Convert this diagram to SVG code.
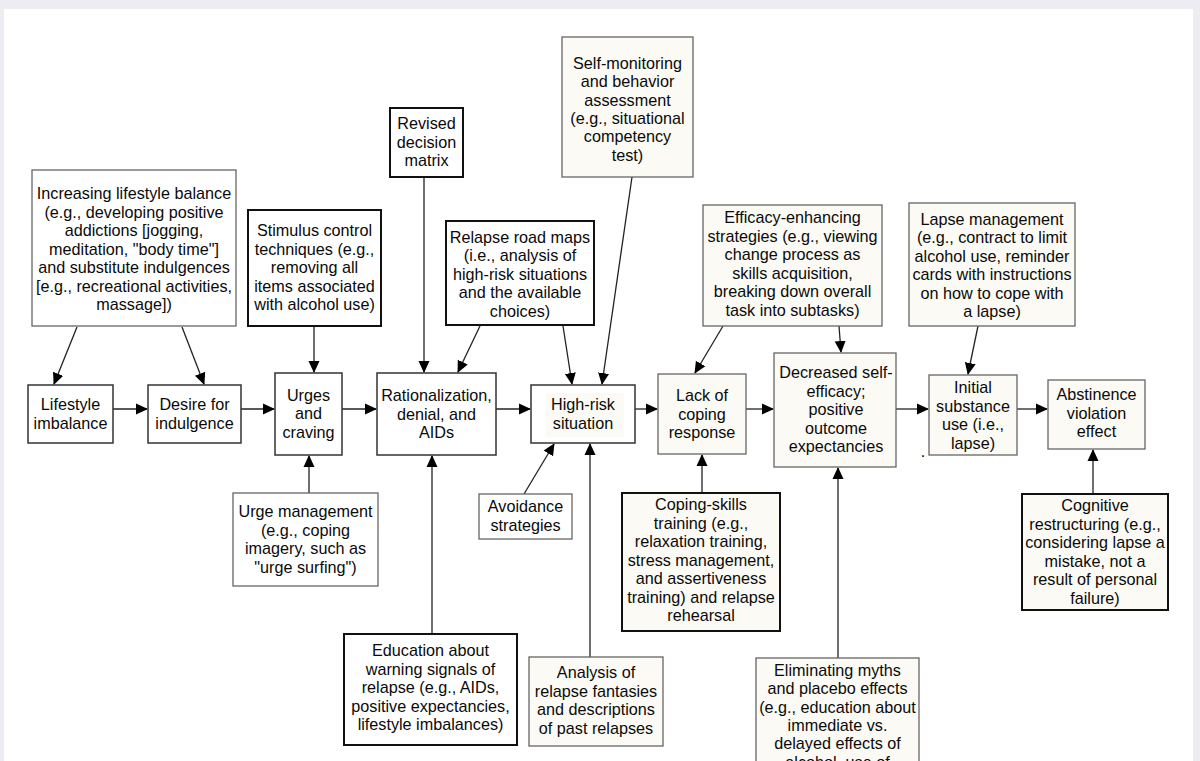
<svg xmlns="http://www.w3.org/2000/svg" width="1200" height="761" viewBox="0 0 1200 761">
<defs>
<marker id="ah" markerWidth="12" markerHeight="12" refX="11" refY="6" orient="auto" markerUnits="userSpaceOnUse">
<path d="M0,0.5 L12,6 L0,11.5 Z" fill="#000"/>
</marker>
<style>
text{font-family:"Liberation Sans",Arial,sans-serif;font-size:16.2px;fill:#0a0a0a;text-anchor:middle}
.w{fill:#fff;stroke:#333;stroke-width:1.5}
.g{fill:#fff;stroke:#666;stroke-width:1.3}
.c{fill:#fbfaf4;stroke:#666;stroke-width:1.3}
.b{fill:#fff;stroke:#111;stroke-width:2}
.cb{fill:#fbfaf4;stroke:#111;stroke-width:2}
.e line{stroke:#222;stroke-width:1.3;marker-end:url(#ah)}
</style>
</defs>
<rect x="0" y="0" width="1200" height="761" fill="#ececf2"/>
<rect x="4" y="9" width="1189" height="752" fill="#fff"/>

<g class="e" id="connectors">
<line x1="77" y1="327" x2="54" y2="384"/>
<line x1="182" y1="327" x2="204" y2="384"/>
<line x1="314" y1="326" x2="314" y2="372"/>
<line x1="113" y1="409" x2="147" y2="409"/>
<line x1="241" y1="409" x2="274" y2="409"/>
<line x1="342" y1="409" x2="376" y2="409"/>
<line x1="496" y1="409" x2="530" y2="409"/>
<line x1="635" y1="409" x2="657" y2="409"/>
<line x1="746" y1="409" x2="773" y2="409"/>
<line x1="896" y1="409" x2="928" y2="409"/>
<line x1="1017" y1="409" x2="1047" y2="409"/>
<line x1="424" y1="177" x2="424" y2="372"/>
<line x1="480" y1="326" x2="458" y2="372"/>
<line x1="563" y1="326" x2="572" y2="384"/>
<line x1="632" y1="177" x2="602" y2="384"/>
<line x1="723" y1="326" x2="695" y2="373"/>
<line x1="839" y1="326" x2="841" y2="352"/>
<line x1="978" y1="326" x2="968" y2="374"/>
<line x1="309" y1="493" x2="309" y2="456"/>
<line x1="524" y1="494" x2="554" y2="444"/>
<line x1="432" y1="634" x2="432" y2="456"/>
<line x1="590" y1="657" x2="590" y2="444"/>
<line x1="702" y1="493" x2="702" y2="455"/>
<line x1="838" y1="658" x2="838" y2="468"/>
<line x1="1093" y1="494" x2="1093" y2="450"/>
</g>

<g id="increasing-balance">
<rect class="g" x="32" y="170" width="204" height="156"/>
<text x="134" y="199"><tspan x="134">Increasing lifestyle balance</tspan><tspan x="134" dy="18.5">(e.g., developing positive</tspan><tspan x="134" dy="18.5">addictions [jogging,</tspan><tspan x="134" dy="18.5">meditation, "body time"]</tspan><tspan x="134" dy="18.5">and substitute indulgences</tspan><tspan x="134" dy="18.5">[e.g., recreational activities,</tspan><tspan x="134" dy="18.5">massage])</tspan></text>
</g>

<g id="stimulus-control">
<rect class="b" x="248" y="210" width="133" height="116"/>
<text x="314.5" y="236"><tspan x="314.5">Stimulus control</tspan><tspan x="314.5" dy="18.5">techniques (e.g.,</tspan><tspan x="314.5" dy="18.5">removing all</tspan><tspan x="314.5" dy="18.5">items associated</tspan><tspan x="314.5" dy="18.5">with alcohol use)</tspan></text>
</g>

<g id="revised-matrix">
<rect class="b" x="390" y="108" width="73" height="69"/>
<text x="426.5" y="129"><tspan x="426.5">Revised</tspan><tspan x="426.5" dy="18.5">decision</tspan><tspan x="426.5" dy="18.5">matrix</tspan></text>
</g>

<g id="self-monitoring">
<rect class="c" x="562" y="37" width="131" height="140"/>
<text x="627.5" y="69"><tspan x="627.5">Self-monitoring</tspan><tspan x="627.5" dy="18.3">and behavior</tspan><tspan x="627.5" dy="18.3">assessment</tspan><tspan x="627.5" dy="18.3">(e.g., situational</tspan><tspan x="627.5" dy="18.3">competency</tspan><tspan x="627.5" dy="18.3">test)</tspan></text>
</g>

<g id="relapse-road-maps">
<rect class="b" x="446" y="221" width="148" height="104"/>
<text x="520" y="242.5"><tspan x="520">Relapse road maps</tspan><tspan x="520" dy="18.5">(i.e., analysis of</tspan><tspan x="520" dy="18.5">high-risk situations</tspan><tspan x="520" dy="18.5">and the available</tspan><tspan x="520" dy="18.5">choices)</tspan></text>
</g>

<g id="efficacy-enhancing">
<rect class="c" x="703" y="205" width="179" height="121"/>
<text x="792.5" y="223"><tspan x="792.5">Efficacy-enhancing</tspan><tspan x="792.5" dy="18.5">strategies (e.g., viewing</tspan><tspan x="792.5" dy="18.5">change process as</tspan><tspan x="792.5" dy="18.5">skills acquisition,</tspan><tspan x="792.5" dy="18.5">breaking down overall</tspan><tspan x="792.5" dy="18.5">task into subtasks)</tspan></text>
</g>

<g id="lapse-management">
<rect class="c" x="909" y="203" width="166" height="123"/>
<text x="992" y="224.5"><tspan x="992">Lapse management</tspan><tspan x="992" dy="18.5">(e.g., contract to limit</tspan><tspan x="992" dy="18.5">alcohol use, reminder</tspan><tspan x="992" dy="18.5">cards with instructions</tspan><tspan x="992" dy="18.5">on how to cope with</tspan><tspan x="992" dy="18.5">a lapse)</tspan></text>
</g>

<g id="lifestyle-imbalance">
<rect class="w" x="28" y="385" width="85" height="58"/>
<text x="70.5" y="409.5"><tspan x="70.5">Lifestyle</tspan><tspan x="70.5" dy="19">imbalance</tspan></text>
</g>

<g id="desire-indulgence">
<rect class="w" x="148" y="385" width="93" height="58"/>
<text x="194.5" y="409.5"><tspan x="194.5">Desire for</tspan><tspan x="194.5" dy="19">indulgence</tspan></text>
</g>

<g id="urges-craving">
<rect class="w" x="275" y="373" width="67" height="82"/>
<text x="308.5" y="400.5"><tspan x="308.5">Urges</tspan><tspan x="308.5" dy="18.5">and</tspan><tspan x="308.5" dy="18.5">craving</tspan></text>
</g>

<g id="rationalization">
<rect class="w" x="377" y="373" width="119" height="82"/>
<text x="436.5" y="401"><tspan x="436.5">Rationalization,</tspan><tspan x="436.5" dy="18.5">denial, and</tspan><tspan x="436.5" dy="18.5">AIDs</tspan></text>
</g>

<g id="high-risk">
<rect class="w" x="531" y="385" width="104" height="58"/>
<rect x="546" y="393" width="78" height="44" fill="#fbfaf4"/>
<text x="583" y="409.5"><tspan x="583">High-risk</tspan><tspan x="583" dy="19">situation</tspan></text>
</g>

<g id="lack-coping">
<rect class="c" x="658" y="374" width="88" height="80"/>
<text x="702" y="401"><tspan x="702">Lack of</tspan><tspan x="702" dy="18.5">coping</tspan><tspan x="702" dy="18.5">response</tspan></text>
</g>

<g id="decreased-efficacy">
<rect class="c" x="774" y="353" width="122" height="114"/>
<text x="836" y="378"><tspan x="836">Decreased self-</tspan><tspan x="836" dy="18.5">efficacy;</tspan><tspan x="836" dy="18.5">positive</tspan><tspan x="836" dy="18.5">outcome</tspan><tspan x="836" dy="18.5">expectancies</tspan></text>
</g>

<g id="initial-use">
<rect class="c" x="929" y="375" width="88" height="80"/>
<text x="973" y="393"><tspan x="973">Initial</tspan><tspan x="973" dy="18.5">substance</tspan><tspan x="973" dy="18.5">use (i.e.,</tspan><tspan x="973" dy="18.5">lapse)</tspan></text>
<text x="923" y="457">.</text>
</g>

<g id="abstinence-violation">
<rect class="c" x="1048" y="380" width="97" height="69"/>
<text x="1096.5" y="400"><tspan x="1096.5">Abstinence</tspan><tspan x="1096.5" dy="18.5">violation</tspan><tspan x="1096.5" dy="18.5">effect</tspan></text>
</g>

<g id="urge-management">
<rect class="g" x="233" y="493" width="145" height="93"/>
<text x="305.5" y="517"><tspan x="305.5">Urge management</tspan><tspan x="305.5" dy="18.5">(e.g., coping</tspan><tspan x="305.5" dy="18.5">imagery, such as</tspan><tspan x="305.5" dy="18.5">"urge surfing")</tspan></text>
</g>

<g id="avoidance">
<rect class="g" x="479" y="494" width="93" height="45"/>
<text x="525.5" y="512"><tspan x="525.5">Avoidance</tspan><tspan x="525.5" dy="19">strategies</tspan></text>
</g>

<g id="education">
<rect class="b" x="344" y="634" width="173" height="111"/>
<text x="430.5" y="656"><tspan x="430.5">Education about</tspan><tspan x="430.5" dy="18.5">warning signals of</tspan><tspan x="430.5" dy="18.5">relapse (e.g., AIDs,</tspan><tspan x="430.5" dy="18.5">positive expectancies,</tspan><tspan x="430.5" dy="18.5">lifestyle imbalances)</tspan></text>
</g>

<g id="analysis-fantasies">
<rect class="c" x="529" y="657" width="134" height="89"/>
<text x="596" y="678"><tspan x="596">Analysis of</tspan><tspan x="596" dy="18.5">relapse fantasies</tspan><tspan x="596" dy="18.5">and descriptions</tspan><tspan x="596" dy="18.5">of past relapses</tspan></text>
</g>

<g id="coping-skills">
<rect class="cb" x="622" y="493" width="158" height="138"/>
<text x="701" y="510"><tspan x="701">Coping-skills</tspan><tspan x="701" dy="18.5">training (e.g.,</tspan><tspan x="701" dy="18.5">relaxation training,</tspan><tspan x="701" dy="18.5">stress management,</tspan><tspan x="701" dy="18.5">and assertiveness</tspan><tspan x="701" dy="18.5">training) and relapse</tspan><tspan x="701" dy="18.5">rehearsal</tspan></text>
</g>

<g id="eliminating-myths">
<rect class="c" x="756" y="658" width="163" height="130"/>
<text x="837.5" y="676"><tspan x="837.5">Eliminating myths</tspan><tspan x="837.5" dy="18.3">and placebo effects</tspan><tspan x="837.5" dy="18.3">(e.g., education about</tspan><tspan x="837.5" dy="18.3">immediate vs.</tspan><tspan x="837.5" dy="18.3">delayed effects of</tspan><tspan x="837.5" dy="18.3">alcohol, use of</tspan></text>
</g>

<g id="cognitive-restructuring">
<rect class="cb" x="1022" y="494" width="146" height="116"/>
<text x="1095" y="511"><tspan x="1095">Cognitive</tspan><tspan x="1095" dy="18.5">restructuring (e.g.,</tspan><tspan x="1095" dy="18.5">considering lapse a</tspan><tspan x="1095" dy="18.5">mistake, not a</tspan><tspan x="1095" dy="18.5">result of personal</tspan><tspan x="1095" dy="18.5">failure)</tspan></text>
</g>
</svg>
